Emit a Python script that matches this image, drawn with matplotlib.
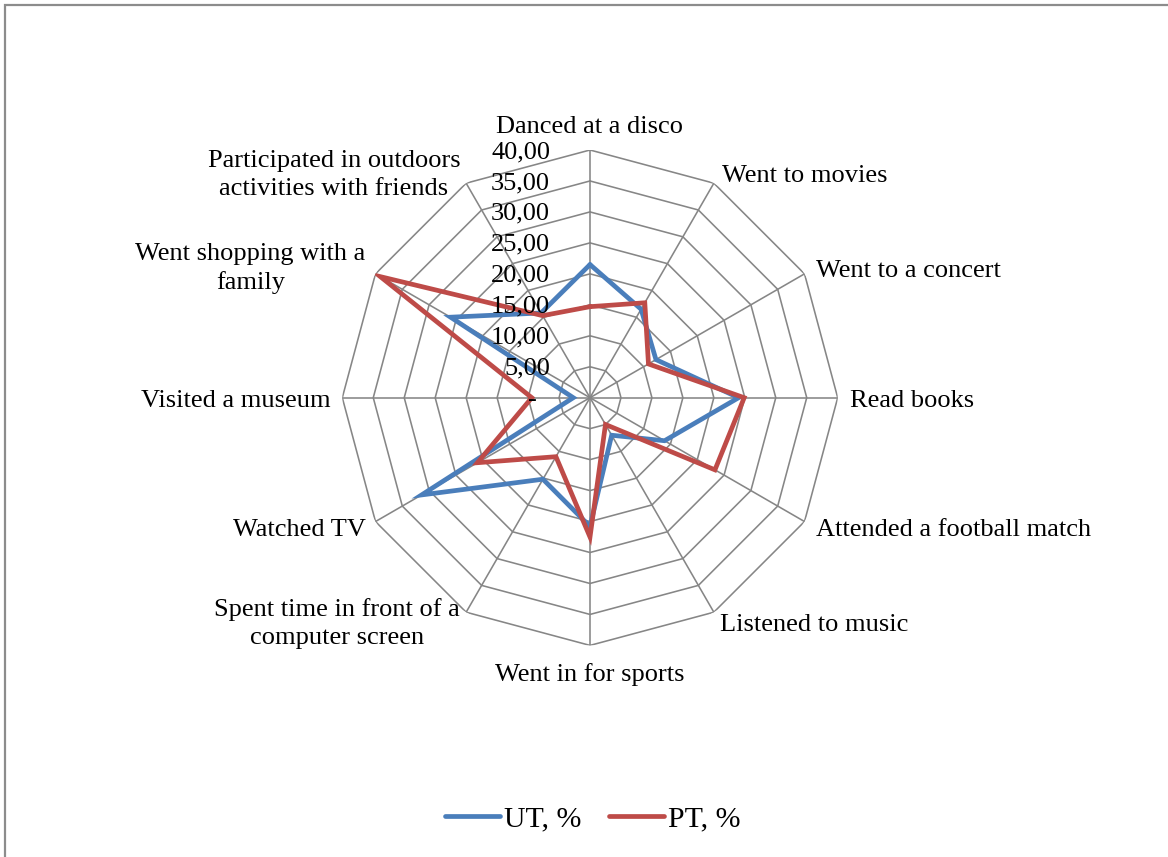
import numpy as np
import matplotlib
matplotlib.use("Agg")
import matplotlib.pyplot as plt
from matplotlib.transforms import offset_copy
from matplotlib.patches import Rectangle

plt.rcParams['font.family'] = ['Liberation Serif', 'DejaVu Serif']

categories = [
    "Danced at a disco",
    "Went to movies",
    "Went to a concert",
    "Read books",
    "Attended a football match",
    "Listened to music",
    "Went in for sports",
    "Spent time in front of a\ncomputer screen",
    "Watched TV",
    "Visited a museum",
    "Went shopping with a\nfamily",
    "Participated in outdoors\nactivities with friends",
]
ut_values = [21.5, 16.5, 12.3, 24.0, 13.9, 7.0, 20.8, 15.2, 31.4, 2.7, 26.0, 15.8]
pt_values = [14.7, 17.7, 10.9, 24.9, 23.3, 5.0, 22.5, 11.0, 21.0, 9.4, 39.1, 15.3]
series_names = ["UT, %", "PT, %"]
series_colors = ["#4A7EBB", "#BE4B48"]
ring_values = [5, 10, 15, 20, 25, 30, 35, 40]
ring_labels = ["5,00", "10,00", "15,00", "20,00", "25,00", "30,00", "35,00", "40,00"]

W, H, DPI = 1168, 857, 100
fig = plt.figure(figsize=(W / DPI, H / DPI), dpi=DPI)
fig.patch.set_facecolor("white")

# chart-area outline (top and left edges visible)
fig.add_artist(Rectangle((5 / W, -0.5), 2.0, 1.5 - 5 / H, transform=fig.transFigure,
                         fill=False, edgecolor="#8c8c8c", linewidth=1.6))

cx, cy, R = 590, 397.7, 247.7
ax = fig.add_axes([(cx - R) / W, (H - cy - R) / H, 2 * R / W, 2 * R / H], projection="polar")
ax.set_theta_offset(np.pi / 2)
ax.set_theta_direction(-1)
ax.set_ylim(0, 40)
ax.grid(False)
ax.set_xticks([])
ax.set_yticks([])
ax.spines["polar"].set_visible(False)
ax.patch.set_alpha(0)

n = len(categories)
theta = np.arange(n) * 2 * np.pi / n
theta_closed = np.append(theta, theta[0])

grid_color = "#868686"
for rv in ring_values:
    ax.plot(theta_closed, [rv] * (n + 1), color=grid_color, lw=1.15, zorder=1)
for t in theta:
    ax.plot([t, t], [0, 40], color=grid_color, lw=1.15, zorder=1)

handles = []
for vals, name, col in zip([ut_values, pt_values], series_names, series_colors):
    v = np.append(vals, vals[0])
    ln, = ax.plot(theta_closed, v, color=col, lw=3.4, solid_joinstyle="miter",
                  solid_capstyle="round", zorder=3, label=name)
    handles.append(ln)

fs = 19
# radial value labels along the top spoke
for rv, lab in zip(ring_values, ring_labels):
    tr = offset_copy(ax.transData, fig=fig, x=-40, y=-2, units="dots")
    ax.text(0, rv, lab, transform=tr, ha="right", va="center", fontsize=fs, zorder=4)
tr0 = offset_copy(ax.transData, fig=fig, x=-58, y=-2, units="dots")
ax.text(0, 0, "-", transform=tr0, ha="center", va="center", fontsize=fs, zorder=4)

# category labels: (dx, dy) pixel offsets from the outer vertex, alignment
label_layout = [
    (0, 17, "center", "baseline"),
    (8, 1, "left", "baseline"),
    (11, 3, "left", "center"),
    (12, -3, "left", "center"),
    (11, -8.5, "left", "center"),
    (6, -13, "left", "center"),
    (0, -29, "center", "center"),
    (-6, -11, "right", "center"),
    (-10, -8.5, "right", "center"),
    (-12, -3, "right", "center"),
    (-10, 5, "right", "center"),
    (-6, 8, "right", "center"),
]
for t, lab, (dx, dy, ha, va) in zip(theta, categories, label_layout):
    tr = offset_copy(ax.transData, fig=fig, x=dx, y=dy, units="dots")
    ax.text(t, 40, lab, transform=tr, ha=ha, va=va, fontsize=fs,
            multialignment="center", linespacing=1.35)

fig.legend(handles=handles, loc="center", bbox_to_anchor=(592.5 / W, 38 / H),
           ncol=2, frameon=False, fontsize=21.5, handlelength=1.85,
           handletextpad=0.13, columnspacing=0.93)

fig.savefig("out.png", dpi=DPI, facecolor="white")
